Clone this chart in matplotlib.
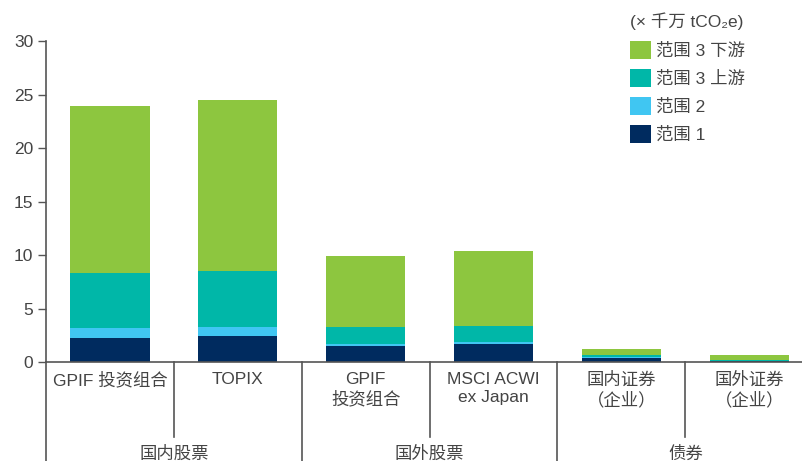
import numpy as np
import matplotlib
matplotlib.use("Agg")
import matplotlib.pyplot as plt
import matplotlib.transforms as mtransforms

plt.rcParams['font.family'] = ['Liberation Sans', 'Noto Sans CJK SC', 'DejaVu Sans']

# data (x 千万 tCO2e)
categories = ["GPIF 投资组合", "TOPIX", "GPIF\n投资组合", "MSCI ACWI\nex Japan",
              "国内证券\n（企业）", "国外证券\n（企业）"]
groups = ["国内股票", "国外股票", "债券"]
scope1 = [2.25, 2.4, 1.5, 1.65, 0.4, 0.12]
scope2 = [0.9, 0.9, 0.15, 0.25, 0.05, 0.02]
scope3_up = [5.2, 5.25, 1.6, 1.45, 0.2, 0.04]
scope3_down = [15.6, 15.9, 6.65, 7.0, 0.57, 0.45]
series_labels = ["范围 1", "范围 2", "范围 3 上游", "范围 3 下游"]
colors = ["#002B5F", "#40C6F2", "#00B7A8", "#8DC63F"]
yticks = [0, 5, 10, 15, 20, 25, 30]

W, H = 803, 461
fig = plt.figure(figsize=(W / 100, H / 100), dpi=100)
ax = fig.add_axes([46 / W, (H - 362) / H, (W - 46) / W, 321 / H])

x = np.arange(len(categories))
bottom = np.zeros(len(categories))
for vals, col, lab in zip([scope1, scope2, scope3_up, scope3_down], colors, series_labels):
    ax.bar(x, vals, width=0.62, bottom=bottom, color=col, label=lab, zorder=2)
    bottom += np.array(vals)

ax.set_xlim(-0.5, 5.42)
ax.set_ylim(0, 30)
ax.set_yticks(yticks)
ax.tick_params(axis='y', length=6, width=1, color="#555555", labelsize=12.5,
               labelcolor="#444444", pad=3)
ax.set_xticks([])
for s in ["top", "right"]:
    ax.spines[s].set_visible(False)
for s in ["left", "bottom"]:
    ax.spines[s].set_color("#555555")
    ax.spines[s].set_linewidth(1.2)

trans = mtransforms.blended_transform_factory(ax.transData, ax.transAxes)

# category labels
for xi, lab in zip(x, categories):
    ax.text(xi, -0.03, lab, transform=trans, ha='center', va='top', fontsize=12.5,
            color="#444444", linespacing=1.3)

# divider lines: short between categories, long between groups
for i in range(len(categories)):
    xb = i - 0.5
    y_end = -0.4 if i % 2 == 0 else -0.234
    ax.plot([xb, xb], [0, y_end], transform=trans, color="#555555", lw=1.2, clip_on=False)

# group labels
for gi, g in enumerate(groups):
    ax.text(2 * gi + 0.5, -0.262, g, transform=trans, ha='center', va='top',
            fontsize=12.5, color="#444444")

handles, labels = ax.get_legend_handles_labels()
leg = fig.legend(handles[::-1], labels[::-1], title="(× 千万 tCO₂e)",
                 loc='upper left', bbox_to_anchor=(621 / W, 1 - 4 / H),
                 frameon=False, fontsize=12.5, title_fontsize=12.5,
                 handlelength=1.2, handleheight=1.2, handletextpad=0.3,
                 labelspacing=0.6, borderpad=0, alignment='left')
for t in leg.get_texts():
    t.set_color("#444444")
leg.get_title().set_color("#444444")

fig.savefig("out.png", dpi=100)
